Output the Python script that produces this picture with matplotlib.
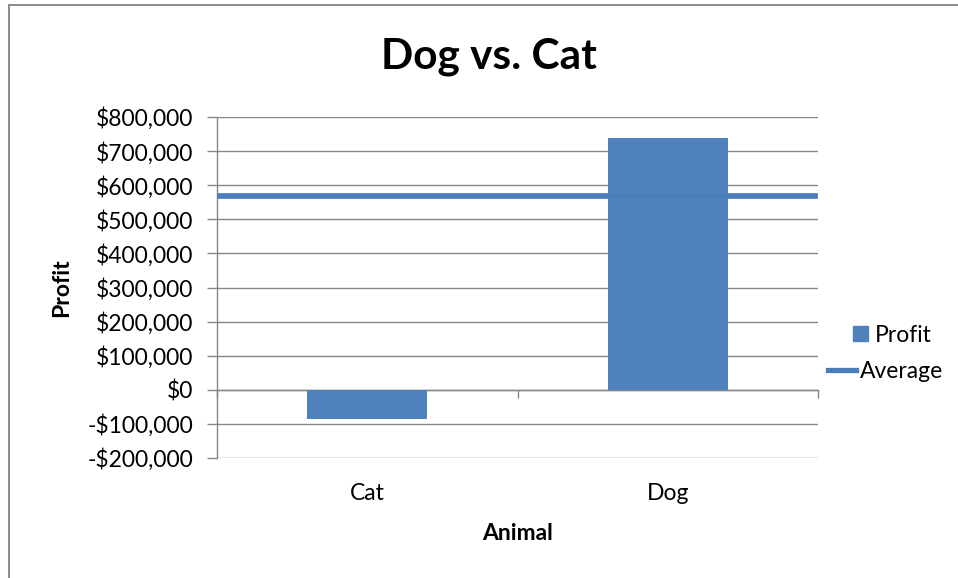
import numpy as np
import matplotlib as mpl
from matplotlib import pyplot as plt
from matplotlib.lines import Line2D
from matplotlib.patches import Patch
from matplotlib.ticker import FuncFormatter

# chart data
animals = ['Cat', 'Dog']
profit = [-85000, 738000]
average = 568000
y_ticks = np.arange(-200000, 800001, 100000)

bar_color = '#4F81BD'
line_color = '#4A7EBB'
grid_color = '#878787'

plt.rcParams['font.family'] = ['Lato', 'DejaVu Sans']

W, H = 958, 578
fig = plt.figure(figsize=(W / 100, H / 100), dpi=100)

# outer chart frame (top and left edges)
fig.add_artist(Line2D([9 / W, 9 / W], [0, 1 - 5 / H], color='#8a8a8a', lw=1.4))
fig.add_artist(Line2D([9 / W, 1], [1 - 5 / H, 1 - 5 / H], color='#8a8a8a', lw=1.4))

ax = fig.add_axes([217 / W, 1 - 458 / H, 601 / W, 341 / H])

x = np.arange(len(animals))
ax.bar(x, profit, width=0.4, color=bar_color, zorder=2, label='Profit')
ax.axhline(average, xmin=0, xmax=0.995, color=line_color, lw=4.1, zorder=3,
           label='Average')

ax.set_xlim(-0.5, len(animals) - 0.5)
ymin, ymax = y_ticks[0], y_ticks[-1]
ax.set_ylim(ymin, ymax)
ax.set_yticks(y_ticks)


def money(v, pos):
    if v < 0:
        return '-${:,.0f}'.format(-v)
    return '${:,.0f}'.format(v)


ax.yaxis.set_major_formatter(FuncFormatter(money))
ax.grid(axis='y', color=grid_color, lw=1.0, zorder=0)
ax.tick_params(axis='y', direction='out', length=7, width=1.0, color=grid_color,
               labelsize=16.5, pad=10)

ax.set_xticks(x, animals)
ax.tick_params(axis='x', length=0, labelsize=16.5, pad=18)

for side in ['top', 'right', 'bottom']:
    ax.spines[side].set_visible(False)
ax.spines['left'].set_color(grid_color)
ax.spines['left'].set_linewidth(1.0)

# category axis drawn along the zero line
zero_frac = (0 - ymin) / (ymax - ymin)
sec = ax.secondary_xaxis(zero_frac)
sec.set_xticks(np.arange(-0.5, len(animals)), labels=[''] * (len(animals) + 1))
sec.tick_params(direction='out', length=6, width=1.0, color=grid_color)
sec.spines['bottom'].set_color(grid_color)
sec.spines['bottom'].set_linewidth(1.0)

ax.set_xlabel('Animal', fontsize=16.5, fontweight='bold')
ax.xaxis.set_label_coords(0.5, -(533 - 458) / 341)
ax.xaxis.label.set_va('center')
ax.set_ylabel('Profit', fontsize=16.5, fontweight='bold')
ax.yaxis.set_label_coords((62 - 217) / 601, 0.5)
ax.yaxis.label.set_va('center')

fig.text(489 / W, 1 - 57 / H, 'Dog vs. Cat', fontsize=30.5, fontweight='bold',
         ha='center', va='center')

# legend entries
fs = 16.5
fs_px = fs * 100 / 72
leg1 = fig.legend(handles=[Patch(color=bar_color, label='Profit')],
                  loc='center left', bbox_to_anchor=(853 / W, 1 - 335 / H),
                  frameon=False, fontsize=fs, borderpad=0, borderaxespad=0,
                  handlelength=15 / fs_px, handleheight=15 / fs_px,
                  handletextpad=7 / fs_px)
leg2 = fig.legend(handles=[Line2D([], [], color=line_color, lw=3.8, label='Average')],
                  loc='center left', bbox_to_anchor=(828 / W, 1 - 372 / H),
                  frameon=False, fontsize=fs, borderpad=0, borderaxespad=0,
                  handlelength=28 / fs_px, handletextpad=4 / fs_px)

fig.savefig('out.png', dpi=100)
